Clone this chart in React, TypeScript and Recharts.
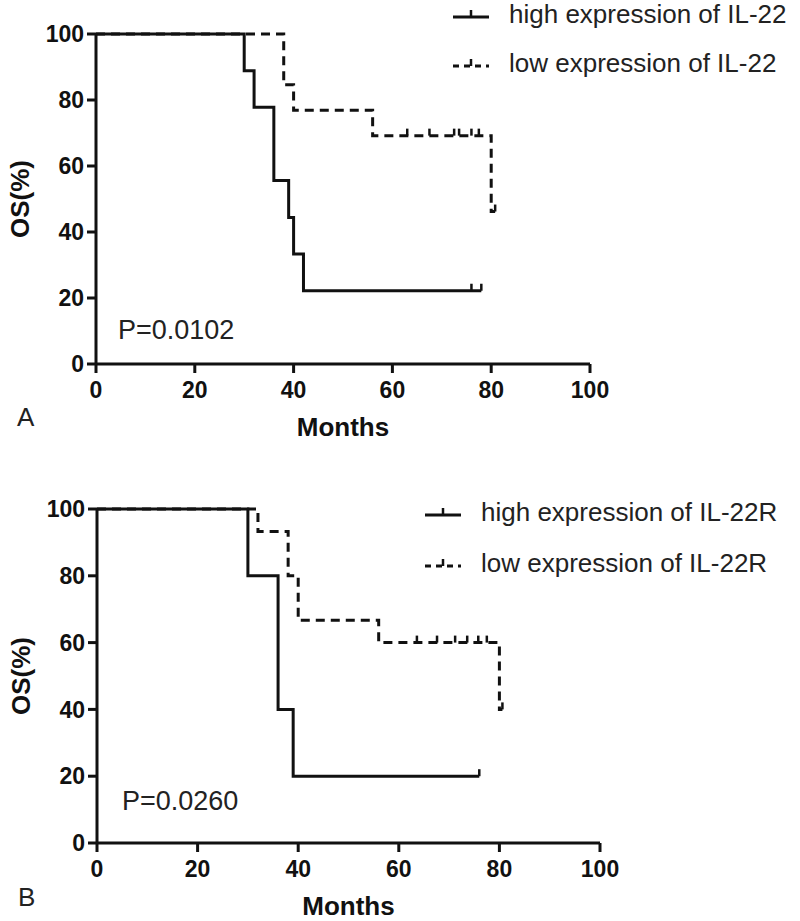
import React from 'react';
import { LineChart, Line, XAxis, YAxis, Legend, Label } from 'recharts';

const xTicks = [0, 20, 40, 60, 80, 100];
const yTicks = [0, 20, 40, 60, 80, 100];

// panel A: IL-22
const highIL22 = [
  { t: 0, s: 100 }, { t: 30, s: 88.9 }, { t: 32, s: 77.8 }, { t: 36, s: 55.6 },
  { t: 39, s: 44.4 }, { t: 40, s: 33.3 }, { t: 42, s: 22.2 }, { t: 78, s: 22.2 },
];
const highIL22Censored = [{ t: 76, s: 22.2 }, { t: 78, s: 22.2 }];
const lowIL22 = [
  { t: 0, s: 100 }, { t: 38, s: 84.6 }, { t: 40, s: 76.9 }, { t: 56, s: 69.2 },
  { t: 80, s: 46.2 }, { t: 80.8, s: 46.2 },
];
const lowIL22Censored = [
  { t: 63, s: 69.2 }, { t: 67.5, s: 69.2 }, { t: 72.5, s: 69.2 }, { t: 73.5, s: 69.2 },
  { t: 76, s: 69.2 }, { t: 77.5, s: 69.2 }, { t: 80.8, s: 46.2 },
];

// panel B: IL-22R
const highIL22R = [
  { t: 0, s: 100 }, { t: 30, s: 80 }, { t: 36, s: 40 }, { t: 39, s: 20 }, { t: 76, s: 20 },
];
const highIL22RCensored = [{ t: 76, s: 20 }];
const lowIL22R = [
  { t: 0, s: 100 }, { t: 32, s: 93.3 }, { t: 38, s: 80 }, { t: 40, s: 66.7 },
  { t: 56, s: 60 }, { t: 80, s: 40 }, { t: 80.6, s: 40 },
];
const lowIL22RCensored = [
  { t: 63.6, s: 60 }, { t: 67.6, s: 60 }, { t: 71.2, s: 60 }, { t: 73.6, s: 60 },
  { t: 75.8, s: 60 }, { t: 77.5, s: 60 }, { t: 80.6, s: 40 },
];

const FONT = '"Liberation Sans", Arial, Helvetica, sans-serif';
const INK = '#111';
const DASH = '9 6';

const CensorTick = (props: any) => {
  const { cx, cy, index } = props;
  if (cx == null || cy == null) return null;
  return <line key={`c-${index}-${cx}`} x1={cx} y1={cy} x2={cx} y2={cy - 7} stroke={INK} strokeWidth={2.5} />;
};

const LegendIcon = ({ dashed }: { dashed: boolean }) => (
  <svg width={36} height={20} style={{ display: 'block' }}>
    <line x1={0} y1={13} x2={36} y2={13} stroke={INK} strokeWidth={3} strokeDasharray={dashed ? '6 5' : undefined} />
    <line x1={18} y1={13} x2={18} y2={6} stroke={INK} strokeWidth={2.5} />
  </svg>
);

interface PanelProps {
  top: number;
  height: number;
  margin: { top: number; right: number; bottom: number; left: number };
  high: { t: number; s: number }[];
  highCensored: { t: number; s: number }[];
  low: { t: number; s: number }[];
  lowCensored: { t: number; s: number }[];
  highName: string;
  lowName: string;
  pText: string;
  letter: string;
  legendPos: { left: number; top: number; gap: number };
  pPos: { left: number; top: number };
  letterPos: { left: number; top: number };
}

const Panel: React.FC<PanelProps> = (p) => {
  const renderLegend = () => (
    <div style={{ fontFamily: FONT, fontSize: 26, color: '#222' }}>
      {[{ name: p.highName, dashed: false }, { name: p.lowName, dashed: true }].map((row, i) => (
        <div key={row.name} style={{ display: 'flex', alignItems: 'center', height: 28, marginTop: i === 0 ? 0 : p.legendPos.gap, whiteSpace: 'nowrap' }}>
          <LegendIcon dashed={row.dashed} />
          <span style={{ marginLeft: 20 }}>{row.name}</span>
        </div>
      ))}
    </div>
  );

  return (
    <div style={{ position: 'absolute', left: 0, top: p.top, width: 800, height: p.height }}>
      <LineChart width={800} height={p.height} margin={p.margin}>
        <XAxis
          dataKey="t" type="number" domain={[0, 100]} ticks={xTicks} allowDataOverflow
          axisLine={{ stroke: INK, strokeWidth: 3 }} tickLine={{ stroke: INK, strokeWidth: 3 }}
          tickSize={9} tickMargin={9} height={40}
          tick={{ fill: INK, fontSize: 23, fontWeight: 'bold', fontFamily: FONT }}
        >
          <Label value="Months" position="bottom" offset={14} style={{ fill: INK, fontSize: 26, fontWeight: 'bold', fontFamily: FONT }} />
        </XAxis>
        <YAxis
          type="number" domain={[0, 100]} ticks={yTicks} width={60}
          axisLine={{ stroke: INK, strokeWidth: 3 }} tickLine={{ stroke: INK, strokeWidth: 3 }}
          tickSize={9} tickMargin={3}
          tick={{ fill: INK, fontSize: 23, fontWeight: 'bold', fontFamily: FONT }}
        >
          <Label value="OS(%)" angle={-90} position="insideLeft" offset={-16}
            style={{ fill: INK, fontSize: 26, fontWeight: 'bold', fontFamily: FONT, textAnchor: 'middle' }} />
        </YAxis>
        <Legend layout="vertical" align="center" verticalAlign="middle" content={renderLegend}
          wrapperStyle={{ left: p.legendPos.left, top: p.legendPos.top, width: 360 }} />
        <Line data={p.high} dataKey="s" name={p.highName} type="stepAfter" stroke={INK} strokeWidth={3}
          dot={false} activeDot={false} isAnimationActive={false} />
        <Line data={p.low} dataKey="s" name={p.lowName} type="stepAfter" stroke={INK} strokeWidth={3}
          strokeDasharray={DASH} dot={false} activeDot={false} isAnimationActive={false} />
        <Line data={p.highCensored} dataKey="s" stroke="none" legendType="none" dot={CensorTick}
          activeDot={false} isAnimationActive={false} />
        <Line data={p.lowCensored} dataKey="s" stroke="none" legendType="none" dot={CensorTick}
          activeDot={false} isAnimationActive={false} />
      </LineChart>
      <div style={{ position: 'absolute', left: p.pPos.left, top: p.pPos.top, fontFamily: FONT, fontSize: 27, lineHeight: '27px', color: '#222' }}>
        {p.pText}
      </div>
      <div style={{ position: 'absolute', left: p.letterPos.left, top: p.letterPos.top, fontFamily: FONT, fontSize: 26, lineHeight: '26px', color: '#222' }}>
        {p.letter}
      </div>
    </div>
  );
};

export default function App() {
  return (
    <div style={{ position: 'absolute', left: 0, top: 0, width: 800, height: 921, background: '#fff' }}>
      <Panel
        top={0} height={460}
        margin={{ top: 34, right: 210, bottom: 56, left: 36 }}
        high={highIL22} highCensored={highIL22Censored}
        low={lowIL22} lowCensored={lowIL22Censored}
        highName="high expression of IL-22" lowName="low expression of IL-22"
        pText="P=0.0102" letter="A"
        legendPos={{ left: 453, top: 0, gap: 21 }}
        pPos={{ left: 118, top: 317 }}
        letterPos={{ left: 17, top: 404 }}
      />
      <Panel
        top={460} height={461}
        margin={{ top: 49, right: 200, bottom: 38, left: 37 }}
        high={highIL22R} highCensored={highIL22RCensored}
        low={lowIL22R} lowCensored={lowIL22RCensored}
        highName="high expression of IL-22R" lowName="low expression of IL-22R"
        pText="P=0.0260" letter="B"
        legendPos={{ left: 425, top: 38, gap: 23 }}
        pPos={{ left: 122, top: 328 }}
        letterPos={{ left: 18, top: 424 }}
      />
    </div>
  );
}
